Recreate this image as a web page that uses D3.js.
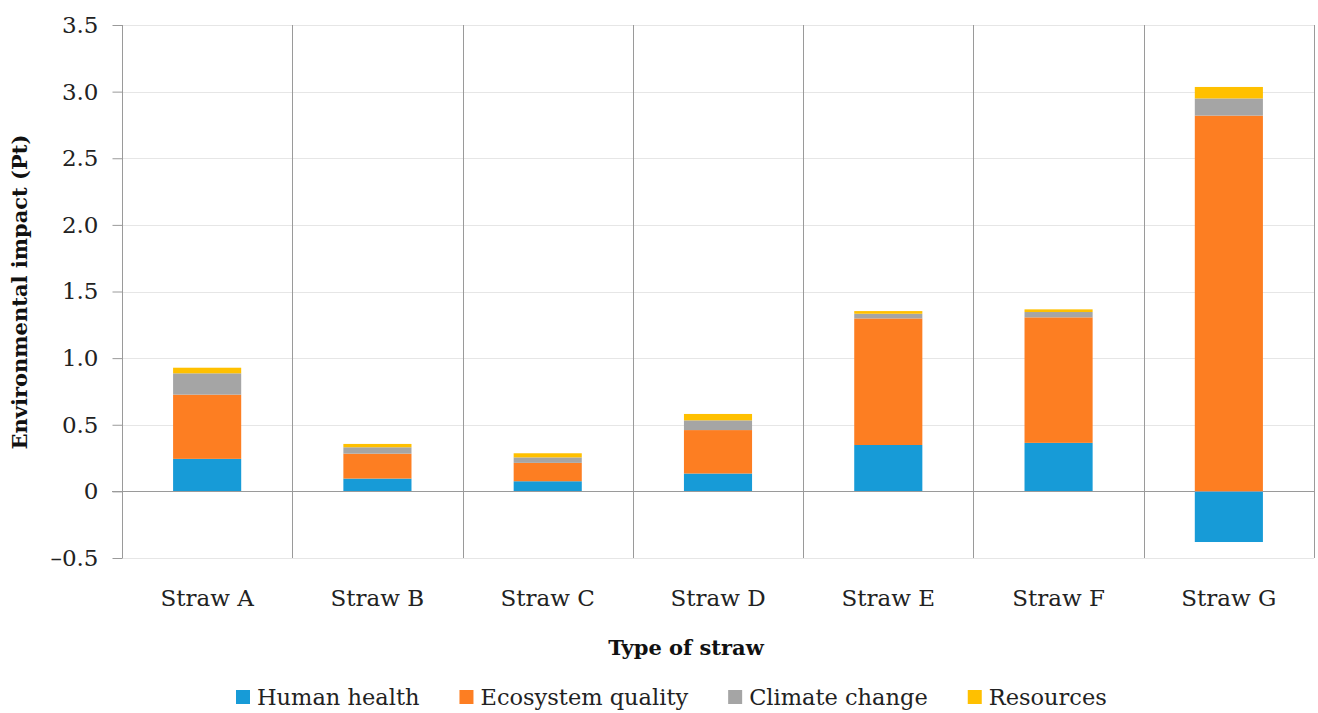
<!DOCTYPE html>
<html>
<head>
<meta charset="utf-8">
<script src="https://cdn.jsdelivr.net/npm/d3@7"></script>
<style>
  html, body { margin: 0; padding: 0; background: #fff; }
  svg { display: block; font-family: "DejaVu Serif", "Liberation Serif", serif; }
</style>
</head>
<body>
<svg id="chart" width="1318" height="713"></svg>
<script>
// ---- data ----
const categories = ["Straw A", "Straw B", "Straw C", "Straw D", "Straw E", "Straw F", "Straw G"];
const seriesNames = ["Human health", "Ecosystem quality", "Climate change", "Resources"];
const humanHealth      = [0.244, 0.096, 0.076, 0.134, 0.348, 0.364, -0.38];
const ecosystemQuality = [0.482, 0.187, 0.138, 0.326, 0.950, 0.942, 2.82];
const climateChange    = [0.160, 0.048, 0.041, 0.073, 0.035, 0.040, 0.129];
const resources        = [0.042, 0.025, 0.031, 0.048, 0.020, 0.020, 0.086];
const yTickValues = [-0.5, 0, 0.5, 1.0, 1.5, 2.0, 2.5, 3.0, 3.5];
const yTickLabels = ["\u20130.5", "0", "0.5", "1.0", "1.5", "2.0", "2.5", "3.0", "3.5"];
const colors = ["#179bd7", "#fd7e22", "#a5a5a5", "#ffc000"];

(function () {
const seriesArrays = [humanHealth, ecosystemQuality, climateChange, resources];
const rows = categories.map((c, i) => {
  const r = { category: c };
  seriesNames.forEach((s, k) => { r[s] = seriesArrays[k][i]; });
  return r;
});

// ---- layout ----
const svg = d3.select("#chart");
const pLeft = 122, pRight = 1314, pTop = 25, pBottom = 558;

const x = d3.scaleBand().domain(categories).range([pLeft, pRight]).paddingInner(0).paddingOuter(0);
const y = d3.scaleLinear().domain([-0.5, 3.5]).range([pBottom, pTop]);
const color = d3.scaleOrdinal().domain(seriesNames).range(colors);

// gridlines
svg.append("g").selectAll("line").data(yTickValues.filter(v => v !== 0)).join("line")
  .attr("x1", pLeft).attr("x2", pRight)
  .attr("y1", d => Math.round(y(d)) + 0.5).attr("y2", d => Math.round(y(d)) + 0.5)
  .attr("stroke", "#e6e6e6").attr("stroke-width", 1);

// category separators
svg.append("g").selectAll("line").data(categories).join("line")
  .attr("x1", d => Math.round(x(d) + x.bandwidth()) + 0.5)
  .attr("x2", d => Math.round(x(d) + x.bandwidth()) + 0.5)
  .attr("y1", pTop).attr("y2", pBottom)
  .attr("stroke", "#9a9a9a").attr("stroke-width", 1);

// bars
const stack = d3.stack().keys(seriesNames).offset(d3.stackOffsetDiverging);
const stacked = stack(rows);
const barW = x.bandwidth() * 0.4;
svg.append("g").selectAll("g").data(stacked).join("g")
  .attr("fill", d => color(d.key))
  .selectAll("rect").data(d => d).join("rect")
  .attr("x", d => x(d.data.category) + (x.bandwidth() - barW) / 2)
  .attr("width", barW)
  .attr("y", d => y(Math.max(d[0], d[1])))
  .attr("height", d => Math.abs(y(d[0]) - y(d[1])));

// y axis
const yAxis = d3.axisLeft(y).tickValues(yTickValues)
  .tickFormat((d, i) => yTickLabels[i]).tickSize(10).tickPadding(14);
const yg = svg.append("g").attr("transform", `translate(${pLeft + 0.5},0)`).call(yAxis);
yg.select(".domain").attr("stroke", "#9a9a9a").attr("d", `M0,${pTop}V${pBottom}`);
yg.selectAll(".tick line").attr("stroke", "#9a9a9a");
yg.selectAll(".tick text").attr("font-size", 23).attr("fill", "#222")
  .attr("font-family", "DejaVu Serif, serif");

// zero line
svg.append("line")
  .attr("x1", pLeft - 10).attr("x2", pRight)
  .attr("y1", Math.round(y(0)) + 0.5).attr("y2", Math.round(y(0)) + 0.5)
  .attr("stroke", "#9a9a9a").attr("stroke-width", 1);

// x category labels
svg.append("g").selectAll("text").data(categories).join("text")
  .attr("x", d => x(d) + x.bandwidth() / 2).attr("y", 606)
  .attr("text-anchor", "middle").attr("font-size", 23).attr("fill", "#222")
  .text(d => d);

// axis titles
svg.append("text").attr("x", 686).attr("y", 655).attr("text-anchor", "middle")
  .attr("font-size", 21).attr("font-weight", "bold").attr("fill", "#111")
  .text("Type of straw");
svg.append("text").attr("transform", "translate(27,292) rotate(-90)")
  .attr("text-anchor", "middle").attr("font-size", 21).attr("font-weight", "bold").attr("fill", "#111")
  .text("Environmental impact (Pt)");

// legend
const lg = svg.append("g");
let lx = 236;
seriesNames.forEach((s, k) => {
  lg.append("rect").attr("x", lx).attr("y", 690).attr("width", 14).attr("height", 14).attr("fill", colors[k]);
  const t = lg.append("text").attr("x", lx + 21).attr("y", 705).attr("font-size", 22.5).attr("fill", "#222").text(s);
  lx += 21 + t.node().getComputedTextLength() + 40;
});
})();
</script>
</body>
</html>
